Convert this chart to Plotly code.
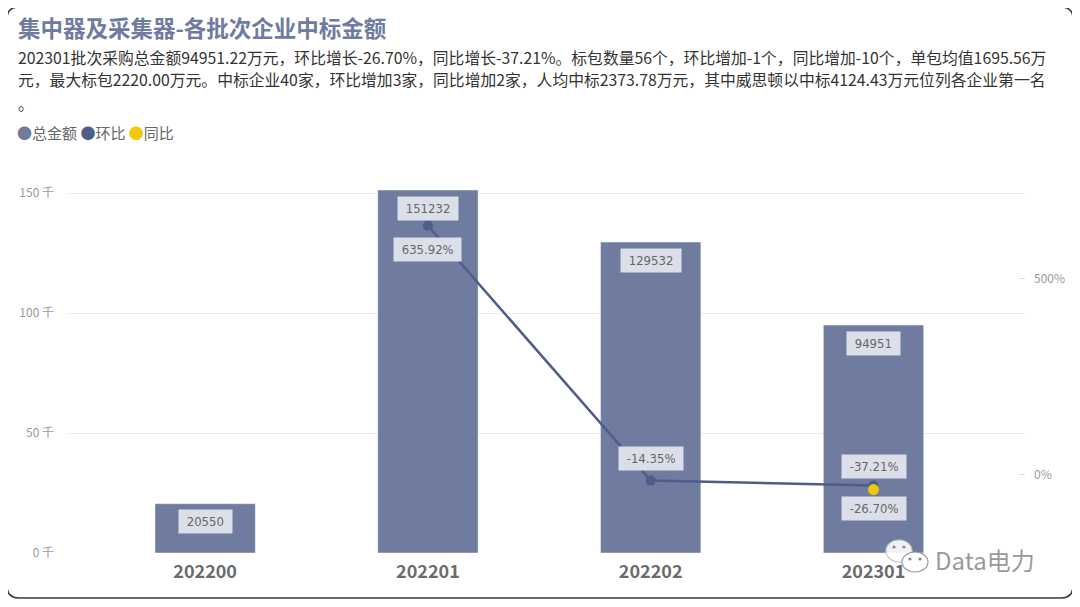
import plotly.graph_objects as go

batches = ["202200", "202201", "202202", "202301"]
total_amount = [20550, 151232, 129532, 94951.22]
hb_rate = [None, 635.92, -14.35, -26.70]
tb_rate = [None, None, None, -37.21]

left_ticks = [0, 50000, 100000, 150000]
left_ticktext = ["0 千", "50 千", "100 千", "150 千"]
right_ticks = [0, 500]

title_text = "集中器及采集器-各批次企业中标金额"
desc_lines = [
    "202301批次采购总金额94951.22万元，环比增长-26.70%，同比增长-37.21%。标包数量56个，环比增加-1个，同比增加-10个，单包均值1695.56万",
    "元，最大标包2220.00万元。中标企业40家，环比增加3家，同比增加2家，人均中标2373.78万元，其中威思顿以中标4124.43万元位列各企业第一名",
    "。",
]

bar_color = "#6f7b9f"
line_color = "#4f5d8d"
yellow = "#f2c80f"
cjk = "Noto Sans CJK SC"
num_font = "DejaVu Sans Condensed"

# the page body has an 8px margin, so work in screen pixels and shift
OFF = 8
W, H = 1080 - OFF, 607 - OFF
# plot area in screen pixels
L, R, T, B = 67, 1025, 175, 553


def px2x(p):
    return (p - L) / (R - L)


def px2y(p):
    return (B - p) / (B - T)


def rounded_rect(x0, y0, x1, y1, r):
    pts = [
        f"M {px2x(x0 + r)} {px2y(y0)}",
        f"L {px2x(x1 - r)} {px2y(y0)}",
        f"Q {px2x(x1)} {px2y(y0)} {px2x(x1)} {px2y(y0 + r)}",
        f"L {px2x(x1)} {px2y(y1 - r)}",
        f"Q {px2x(x1)} {px2y(y1)} {px2x(x1 - r)} {px2y(y1)}",
        f"L {px2x(x0 + r)} {px2y(y1)}",
        f"Q {px2x(x0)} {px2y(y1)} {px2x(x0)} {px2y(y1 - r)}",
        f"L {px2x(x0)} {px2y(y0 + r)}",
        f"Q {px2x(x0)} {px2y(y0)} {px2x(x0 + r)} {px2y(y0)}",
        "Z",
    ]
    return " ".join(pts)


def ellipse(cx, cy, rx, ry, fill, line, lw=1.2):
    return dict(
        type="circle", xref="paper", yref="paper",
        x0=px2x(cx - rx), x1=px2x(cx + rx),
        y0=px2y(cy + ry), y1=px2y(cy - ry),
        fillcolor=fill, line=dict(color=line, width=lw), layer="above",
    )


fig = go.Figure()

fig.add_trace(go.Bar(
    x=batches, y=total_amount, name="总金额",
    marker=dict(color=bar_color), width=0.45,
    showlegend=False, hoverinfo="skip",
))

fig.add_trace(go.Scatter(
    x=batches, y=hb_rate, name="环比", yaxis="y2",
    mode="lines+markers", connectgaps=False,
    line=dict(color=line_color, width=2.5),
    marker=dict(color=line_color, size=10),
    showlegend=False,
))

fig.add_trace(go.Scatter(
    x=batches, y=tb_rate, name="同比", yaxis="y2",
    mode="markers",
    marker=dict(color=yellow, size=11),
    showlegend=False,
))

annotations = []
label_style = dict(
    showarrow=False,
    font=dict(family=num_font, size=13, color="#666666"),
    bgcolor="rgba(226,229,237,0.95)", borderpad=4,
)

# bar value labels (category axis positions are serial numbers)
for i, v in enumerate(total_amount):
    annotations.append(dict(
        x=i, y=v, xref="x", yref="y", yshift=-18,
        text=" " + str(int(v)) + " ", **label_style,
    ))

# line value labels (shift below/above point)
hb_shift = [0, -24, 22, -23]
for i, v in enumerate(hb_rate):
    if v is None:
        continue
    annotations.append(dict(
        x=i, y=v, xref="x", yref="y2", yshift=hb_shift[i],
        text=f" {v:.2f}% ", **label_style,
    ))
for i, v in enumerate(tb_rate):
    if v is None:
        continue
    annotations.append(dict(
        x=i, y=v, xref="x", yref="y2", yshift=23,
        text=f" {v:.2f}% ", **label_style,
    ))

# title and description
annotations.append(dict(
    x=px2x(16), y=px2y(27), xref="paper", yref="paper",
    xanchor="left", yanchor="middle", showarrow=False,
    text="<b>" + title_text + "</b>",
    font=dict(family=cjk, size=22.5, color="#6f7b9f"),
))
for i, line in enumerate(desc_lines):
    annotations.append(dict(
        x=px2x(16), y=px2y(57 + 23 * i), xref="paper", yref="paper",
        xanchor="left", yanchor="middle", showarrow=False,
        text=line, font=dict(family=cjk, size=15.8, color="#333333"),
    ))

# legend
legend_html = (
    f"<span style='color:{bar_color}'>●</span>总金额 "
    f"<span style='color:{line_color}'>●</span>环比 "
    f"<span style='color:{yellow}'>●</span>同比"
)
annotations.append(dict(
    x=px2x(15), y=px2y(133), xref="paper", yref="paper",
    xanchor="left", yanchor="middle", showarrow=False,
    text=legend_html, font=dict(family=cjk, size=15, color="#666666"),
))

# watermark
annotations.append(dict(
    x=px2x(933), y=px2y(559), xref="paper", yref="paper",
    xanchor="left", yanchor="middle", showarrow=False,
    text="Data电力", font=dict(family=cjk, size=24, color="#9a9a9a"),
))

shapes = [dict(
    type="path", xref="paper", yref="paper",
    path=rounded_rect(7, 7, 1073, 598, 12),
    line=dict(color="#3a3a3a", width=1.5),
    fillcolor="rgba(0,0,0,0)", layer="below",
)]
# wechat-like icon of the watermark
shapes.append(ellipse(899, 551, 13, 11, "rgba(255,255,255,0.9)", "#c8c8c8"))
shapes.append(ellipse(915, 562, 13, 10, "rgba(255,255,255,0.95)", "#9a9a9a"))
for cx, cy in [(894, 547), (904, 547), (910, 559), (920, 559)]:
    shapes.append(ellipse(cx, cy, 1.6, 1.6, "#8a8a8a", "#8a8a8a", 0))

fig.update_layout(
    width=W, height=H,
    margin=dict(l=L - OFF, r=1080 - R, t=T - OFF, b=607 - B),
    paper_bgcolor="white", plot_bgcolor="white",
    font=dict(family=cjk),
    xaxis=dict(
        type="category", range=[-0.62, 3.68],
        showgrid=False, showline=False, zeroline=False, ticks="",
        tickfont=dict(family=cjk, size=18, color="#6b6b6b", weight="bold"),
        ticklabelstandoff=6,
    ),
    yaxis=dict(
        range=[0, 157500], tickvals=left_ticks, ticktext=left_ticktext,
        showgrid=True, gridcolor="#ececec", gridwidth=1,
        zeroline=False, showline=False, ticks="",
        tickfont=dict(family=cjk, size=12, color="#9a9a9a"),
        ticklabelstandoff=12,
    ),
    yaxis2=dict(
        overlaying="y", side="right", range=[-199, 765],
        tickvals=right_ticks, ticktext=[f"{v}%" for v in right_ticks],
        showgrid=False, zeroline=False, showline=False,
        ticks="inside", ticklen=6, tickcolor="#e0e0e0",
        tickfont=dict(family=cjk, size=12, color="#9a9a9a"),
        ticklabelstandoff=8,
    ),
    annotations=annotations,
    shapes=shapes,
)

fig.write_html("out.html")
